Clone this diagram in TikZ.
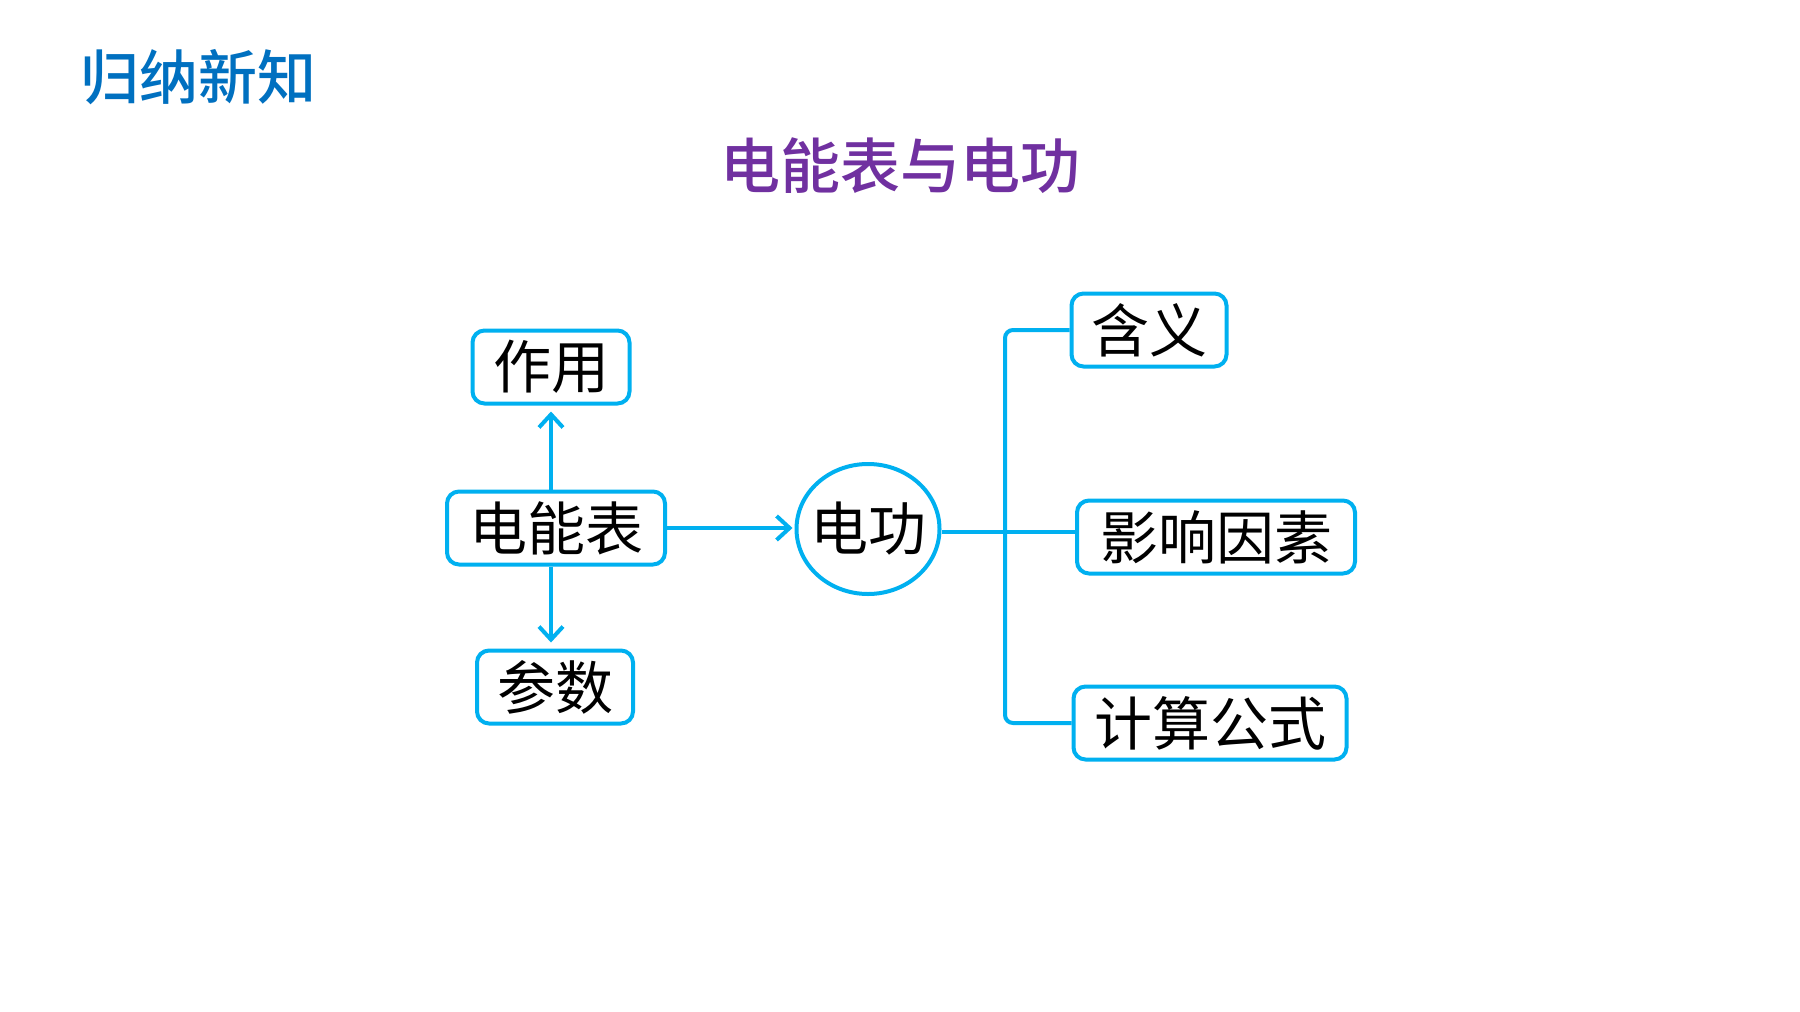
\documentclass[tikz,border=0pt]{standalone}
\usepackage{fontspec}
\usetikzlibrary{arrows.meta,shapes.geometric,calc}
\newfontfamily\cjk{Noto Sans CJK SC}
\newfontfamily\cjkm{Noto Sans CJK SC Medium}
\definecolor{cyanline}{HTML}{00B0F0}
\definecolor{titleblue}{HTML}{0070C0}
\definecolor{titlepurple}{HTML}{7030A0}
\tikzset{
  box/.style={draw=cyanline, line width=4pt, rounded corners=12pt, minimum height=73pt, inner sep=0pt, fill=white, font=\cjk\fontsize{58}{58}\selectfont, text=black},
  roundbox/.style={draw=cyanline, line width=4pt, ellipse, minimum width=143pt, minimum height=130pt, inner xsep=-8pt, inner ysep=0pt, font=\cjk\fontsize{58}{58}\selectfont, text=black},
  conn/.style={draw=cyanline, line width=4pt},
  arr/.style={conn, -{Straight Barb[length=13pt,width=24pt,line width=4pt]}},
}
\begin{document}
\begin{tikzpicture}[x=1pt,y=-1pt]
\useasboundingbox (0,0) rectangle (1800,1012);
\fill[white] (0,0) rectangle (1800,1012);
\node[font=\cjkm\fontsize{59}{59}\selectfont, text=titleblue, inner sep=0pt] (ttl) at (198,77) {归纳新知};
\node[font=\cjkm\fontsize{60}{60}\selectfont, text=titlepurple, inner sep=0pt] (sub) at (900,166) {电能表与电功};

\node[box, minimum width=157pt] (zy) at (551,367) {作用};
\node[box, minimum width=218pt] (dnb) at (556,528) {电能表};
\node[box, minimum width=156pt] (cs) at (555,687) {参数};
\node[roundbox] (dg) at (868,529) {电功};
\node[box, minimum width=155pt] (hy) at (1149,330) {含义};
\node[box, minimum width=278pt] (ysys) at (1216,537) {影响因素};
\node[box, minimum width=273pt] (jsgs) at (1210,723) {计算公式};
\coordinate (j) at (1005,530);

\draw[arr, shorten >=6pt] (zy.south |- dnb.north) -- (zy.south);
\draw[arr, shorten >=6pt] (zy.south |- dnb.south) -- (zy.south |- cs.north);
\draw[arr, shorten >=2pt] (dnb.east) -- (dnb.east -| dg.west);
\draw[conn] ([yshift=-3pt]dg.east) -- ([yshift=-3pt]dg.east -| ysys.west);
\draw[conn, rounded corners=8pt] (hy.west) -- (j |- hy.west) -- (j |- jsgs.west) -- (jsgs.west);
\end{tikzpicture}
\end{document}
